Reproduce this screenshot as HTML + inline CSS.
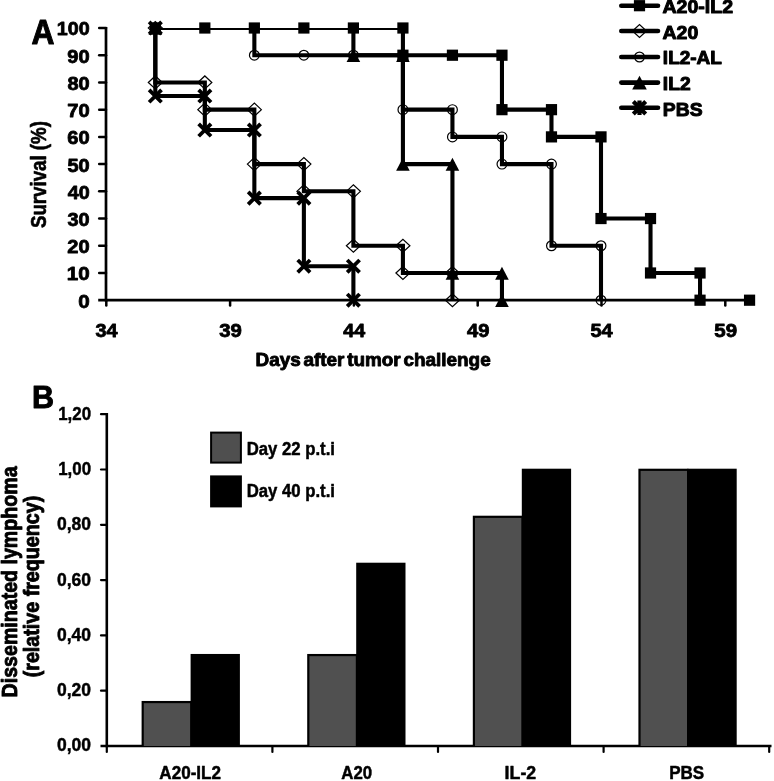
<!DOCTYPE html>
<html><head><meta charset="utf-8"><title>Figure</title>
<style>html,body{margin:0;padding:0;background:#fff}body{width:774px;height:781px;position:relative;overflow:hidden;font-family:"Liberation Sans",sans-serif}</style></head>
<body>
<svg width="774" height="781" viewBox="0 0 774 781" style="position:absolute;left:0;top:0;filter:grayscale(1) blur(0.4px)">
<rect width="774" height="781" fill="#fff"/>
<defs><clipPath id="cp"><rect x="105.8" y="28.00" width="700" height="273.55"/></clipPath></defs>
<g stroke="#000" stroke-width="2.7" fill="none">
<path d="M106.0 26.90V301.50"/>
<path d="M98.2 300.20H749.56"/>
</g>
<g stroke="#000" stroke-width="2.5" fill="none" stroke-linecap="round">
<path d="M99.2 272.98H106.0"/>
<path d="M99.2 245.76H106.0"/>
<path d="M99.2 218.54H106.0"/>
<path d="M99.2 191.32H106.0"/>
<path d="M99.2 164.10H106.0"/>
<path d="M99.2 136.88H106.0"/>
<path d="M99.2 109.66H106.0"/>
<path d="M99.2 82.44H106.0"/>
<path d="M99.2 55.22H106.0"/>
<path d="M99.2 28.00H106.0"/>
<path d="M106.30 300.20V305.40"/>
<path d="M230.10 300.20V305.40"/>
<path d="M353.90 300.20V305.40"/>
<path d="M477.70 300.20V305.40"/>
<path d="M601.50 300.20V305.40"/>
<path d="M725.30 300.20V305.40"/>
</g>
<g clip-path="url(#cp)" fill="none" stroke="#000" stroke-width="4.1" stroke-linejoin="miter">
<path d="M155.32 28.00L155.32 82.44L204.84 82.44L204.84 109.66L254.36 109.66L254.36 164.10L303.88 164.10L303.88 191.32L353.40 191.32L353.40 245.76L402.92 245.76L402.92 272.98L452.44 272.98L452.44 300.20"/>
<path d="M155.32 28.00L254.36 28.00L254.36 55.22L402.92 55.22L402.92 109.66L452.44 109.66L452.44 136.88L501.96 136.88L501.96 164.10L551.48 164.10L551.48 245.76L601.00 245.76L601.00 300.20"/>
<path d="M155.32 28.00L353.40 28.00L353.40 55.22L402.92 55.22L402.92 164.10L452.44 164.10L452.44 272.98L501.96 272.98L501.96 300.20"/>
<path d="M155.32 28.00L155.32 96.05L204.84 96.05L204.84 130.07L254.36 130.07L254.36 198.12L303.88 198.12L303.88 266.18L353.40 266.18L353.40 300.20"/>
<path d="M155.32 28.00L402.92 28.00L402.92 55.22L501.96 55.22L501.96 109.66L551.48 109.66L551.48 136.88L601.00 136.88L601.00 218.54L650.52 218.54L650.52 272.98L700.04 272.98L700.04 300.20"/>
</g>
<path d="M148.32 28.00L155.32 21.50L162.32 28.00L155.32 34.50Z" fill="none" stroke="#000" stroke-width="1.2"/>
<path d="M148.32 82.44L155.32 75.94L162.32 82.44L155.32 88.94Z" fill="none" stroke="#000" stroke-width="1.2"/>
<path d="M197.84 82.44L204.84 75.94L211.84 82.44L204.84 88.94Z" fill="none" stroke="#000" stroke-width="1.2"/>
<path d="M197.84 109.66L204.84 103.16L211.84 109.66L204.84 116.16Z" fill="none" stroke="#000" stroke-width="1.2"/>
<path d="M247.36 109.66L254.36 103.16L261.36 109.66L254.36 116.16Z" fill="none" stroke="#000" stroke-width="1.2"/>
<path d="M247.36 164.10L254.36 157.60L261.36 164.10L254.36 170.60Z" fill="none" stroke="#000" stroke-width="1.2"/>
<path d="M296.88 164.10L303.88 157.60L310.88 164.10L303.88 170.60Z" fill="none" stroke="#000" stroke-width="1.2"/>
<path d="M296.88 191.32L303.88 184.82L310.88 191.32L303.88 197.82Z" fill="none" stroke="#000" stroke-width="1.2"/>
<path d="M346.40 191.32L353.40 184.82L360.40 191.32L353.40 197.82Z" fill="none" stroke="#000" stroke-width="1.2"/>
<path d="M346.40 245.76L353.40 239.26L360.40 245.76L353.40 252.26Z" fill="none" stroke="#000" stroke-width="1.2"/>
<path d="M395.92 245.76L402.92 239.26L409.92 245.76L402.92 252.26Z" fill="none" stroke="#000" stroke-width="1.2"/>
<path d="M395.92 272.98L402.92 266.48L409.92 272.98L402.92 279.48Z" fill="none" stroke="#000" stroke-width="1.2"/>
<path d="M445.44 272.98L452.44 266.48L459.44 272.98L452.44 279.48Z" fill="none" stroke="#000" stroke-width="1.2"/>
<path d="M445.44 300.20L452.44 293.70L459.44 300.20L452.44 306.70Z" fill="none" stroke="#000" stroke-width="1.2"/>
<circle cx="155.32" cy="28.00" r="4.9" fill="none" stroke="#000" stroke-width="1.2"/>
<circle cx="254.36" cy="55.22" r="4.9" fill="none" stroke="#000" stroke-width="1.2"/>
<circle cx="303.88" cy="55.22" r="4.9" fill="none" stroke="#000" stroke-width="1.2"/>
<circle cx="353.40" cy="55.22" r="4.9" fill="none" stroke="#000" stroke-width="1.2"/>
<circle cx="402.92" cy="55.22" r="4.9" fill="none" stroke="#000" stroke-width="1.2"/>
<circle cx="402.92" cy="109.66" r="4.9" fill="none" stroke="#000" stroke-width="1.2"/>
<circle cx="452.44" cy="109.66" r="4.9" fill="none" stroke="#000" stroke-width="1.2"/>
<circle cx="452.44" cy="136.88" r="4.9" fill="none" stroke="#000" stroke-width="1.2"/>
<circle cx="501.96" cy="136.88" r="4.9" fill="none" stroke="#000" stroke-width="1.2"/>
<circle cx="501.96" cy="164.10" r="4.9" fill="none" stroke="#000" stroke-width="1.2"/>
<circle cx="551.48" cy="164.10" r="4.9" fill="none" stroke="#000" stroke-width="1.2"/>
<circle cx="551.48" cy="245.76" r="4.9" fill="none" stroke="#000" stroke-width="1.2"/>
<circle cx="601.00" cy="245.76" r="4.9" fill="none" stroke="#000" stroke-width="1.2"/>
<circle cx="601.00" cy="300.20" r="4.9" fill="none" stroke="#000" stroke-width="1.2"/>
<path d="M148.52 34.70L155.32 21.70L162.12 34.70Z" fill="#000"/>
<path d="M346.60 61.92L353.40 48.92L360.20 61.92Z" fill="#000"/>
<path d="M396.12 61.92L402.92 48.92L409.72 61.92Z" fill="#000"/>
<path d="M396.12 170.80L402.92 157.80L409.72 170.80Z" fill="#000"/>
<path d="M445.64 170.80L452.44 157.80L459.24 170.80Z" fill="#000"/>
<path d="M445.64 279.68L452.44 266.68L459.24 279.68Z" fill="#000"/>
<path d="M495.16 279.68L501.96 266.68L508.76 279.68Z" fill="#000"/>
<path d="M495.16 306.90L501.96 293.90L508.76 306.90Z" fill="#000"/>
<rect x="149.72" y="22.40" width="11.2" height="11.2" fill="#000"/>
<rect x="199.24" y="22.40" width="11.2" height="11.2" fill="#000"/>
<rect x="248.76" y="22.40" width="11.2" height="11.2" fill="#000"/>
<rect x="298.28" y="22.40" width="11.2" height="11.2" fill="#000"/>
<rect x="347.80" y="22.40" width="11.2" height="11.2" fill="#000"/>
<rect x="397.32" y="22.40" width="11.2" height="11.2" fill="#000"/>
<rect x="397.32" y="49.62" width="11.2" height="11.2" fill="#000"/>
<rect x="446.84" y="49.62" width="11.2" height="11.2" fill="#000"/>
<rect x="496.36" y="49.62" width="11.2" height="11.2" fill="#000"/>
<rect x="496.36" y="104.06" width="11.2" height="11.2" fill="#000"/>
<rect x="545.88" y="104.06" width="11.2" height="11.2" fill="#000"/>
<rect x="545.88" y="131.28" width="11.2" height="11.2" fill="#000"/>
<rect x="595.40" y="131.28" width="11.2" height="11.2" fill="#000"/>
<rect x="595.40" y="212.94" width="11.2" height="11.2" fill="#000"/>
<rect x="644.92" y="212.94" width="11.2" height="11.2" fill="#000"/>
<rect x="644.92" y="267.38" width="11.2" height="11.2" fill="#000"/>
<rect x="694.44" y="267.38" width="11.2" height="11.2" fill="#000"/>
<rect x="694.44" y="294.60" width="11.2" height="11.2" fill="#000"/>
<rect x="743.96" y="294.60" width="11.2" height="11.2" fill="#000"/>
<path d="M149.12 21.80L161.52 34.20M149.12 34.20L161.52 21.80" fill="none" stroke="#000" stroke-width="3.8" stroke-linecap="butt"/>
<path d="M149.12 89.85L161.52 102.25M149.12 102.25L161.52 89.85" fill="none" stroke="#000" stroke-width="3.8" stroke-linecap="butt"/>
<path d="M198.64 89.85L211.04 102.25M198.64 102.25L211.04 89.85" fill="none" stroke="#000" stroke-width="3.8" stroke-linecap="butt"/>
<path d="M198.64 123.87L211.04 136.27M198.64 136.27L211.04 123.87" fill="none" stroke="#000" stroke-width="3.8" stroke-linecap="butt"/>
<path d="M248.16 123.87L260.56 136.27M248.16 136.27L260.56 123.87" fill="none" stroke="#000" stroke-width="3.8" stroke-linecap="butt"/>
<path d="M248.16 191.93L260.56 204.32M248.16 204.32L260.56 191.93" fill="none" stroke="#000" stroke-width="3.8" stroke-linecap="butt"/>
<path d="M297.68 191.93L310.08 204.32M297.68 204.32L310.08 191.93" fill="none" stroke="#000" stroke-width="3.8" stroke-linecap="butt"/>
<path d="M297.68 259.98L310.08 272.38M297.68 272.38L310.08 259.98" fill="none" stroke="#000" stroke-width="3.8" stroke-linecap="butt"/>
<path d="M347.20 259.98L359.60 272.38M347.20 272.38L359.60 259.98" fill="none" stroke="#000" stroke-width="3.8" stroke-linecap="butt"/>
<path d="M347.20 294.00L359.60 306.40M347.20 306.40L359.60 294.00" fill="none" stroke="#000" stroke-width="3.8" stroke-linecap="butt"/>
<g font-family="Liberation Sans, sans-serif" font-weight="bold" fill="#000">
<text transform="translate(78.17 307.60) scale(1.0941 1)" font-size="18.86" stroke="#000" stroke-width="0.8" stroke-linejoin="round">0</text>
<text transform="translate(66.76 280.38) scale(1.0921 1)" font-size="18.86" stroke="#000" stroke-width="0.8" stroke-linejoin="round">10</text>
<text transform="translate(67.30 253.16) scale(1.0657 1)" font-size="18.86" stroke="#000" stroke-width="0.8" stroke-linejoin="round">20</text>
<text transform="translate(67.50 225.94) scale(1.0555 1)" font-size="18.86" stroke="#000" stroke-width="0.8" stroke-linejoin="round">30</text>
<text transform="translate(67.70 198.72) scale(1.0455 1)" font-size="18.86" stroke="#000" stroke-width="0.8" stroke-linejoin="round">40</text>
<text transform="translate(67.40 171.50) scale(1.0606 1)" font-size="18.86" stroke="#000" stroke-width="0.8" stroke-linejoin="round">50</text>
<text transform="translate(67.30 144.28) scale(1.0657 1)" font-size="18.86" stroke="#000" stroke-width="0.8" stroke-linejoin="round">60</text>
<text transform="translate(67.19 117.06) scale(1.0709 1)" font-size="18.86" stroke="#000" stroke-width="0.8" stroke-linejoin="round">70</text>
<text transform="translate(67.40 89.84) scale(1.0606 1)" font-size="18.86" stroke="#000" stroke-width="0.8" stroke-linejoin="round">80</text>
<text transform="translate(67.30 62.62) scale(1.0657 1)" font-size="18.86" stroke="#000" stroke-width="0.8" stroke-linejoin="round">90</text>
<text transform="translate(56.82 35.40) scale(1.0437 1)" font-size="18.86" stroke="#000" stroke-width="0.8" stroke-linejoin="round">100</text>
<text transform="translate(95.40 336.90) scale(1.0670 1)" font-size="18.57" stroke="#000" stroke-width="0.8" stroke-linejoin="round">34</text>
<text transform="translate(219.19 336.90) scale(1.0974 1)" font-size="18.57" stroke="#000" stroke-width="0.8" stroke-linejoin="round">39</text>
<text transform="translate(343.21 336.90) scale(1.0421 1)" font-size="18.84" stroke="#000" stroke-width="0.8" stroke-linejoin="round">44</text>
<text transform="translate(467.00 336.90) scale(1.0871 1)" font-size="18.57" stroke="#000" stroke-width="0.8" stroke-linejoin="round">49</text>
<text transform="translate(590.50 336.90) scale(1.0566 1)" font-size="18.84" stroke="#000" stroke-width="0.8" stroke-linejoin="round">54</text>
<text transform="translate(714.29 336.90) scale(1.1027 1)" font-size="18.57" stroke="#000" stroke-width="0.8" stroke-linejoin="round">59</text>
<text transform="translate(255.52 365.97) scale(1.0082 1)" font-size="18.77" stroke="#000" stroke-width="0.9" stroke-linejoin="round" word-spacing="-2.5">Days after tumor challenge</text>
<text transform="translate(46.25 228.06) rotate(-90) scale(0.8655 1)" font-size="21.59" stroke="#000" stroke-width="0.6" stroke-linejoin="round">Survival (%)</text>
<text transform="translate(31.61 43.55) scale(0.9140 1)" font-size="34.78" stroke="#000" stroke-width="1.0" stroke-linejoin="round">A</text>
<text transform="translate(32.12 408.15) scale(0.9607 1)" font-size="31.74" stroke="#000" stroke-width="1.0" stroke-linejoin="round">B</text>
<path d="M621.3 5.7H658" stroke="#000" stroke-width="4.6" stroke-linecap="round"/>
<rect x="633.90" y="0.10" width="11.2" height="11.2" fill="#000"/>
<text transform="translate(662.51 13.25) scale(1.0142 1)" font-size="19.28" stroke="#000" stroke-width="1.0" stroke-linejoin="round">A20-IL2</text>
<path d="M621.3 31H658" stroke="#000" stroke-width="4.6" stroke-linecap="round"/>
<path d="M632.50 31.00L639.50 24.50L646.50 31.00L639.50 37.50Z" fill="none" stroke="#000" stroke-width="1.2"/>
<text transform="translate(662.51 38.85) scale(1.0112 1)" font-size="19.28" stroke="#000" stroke-width="1.0" stroke-linejoin="round">A20</text>
<path d="M621.3 57H658" stroke="#000" stroke-width="4.6" stroke-linecap="round"/>
<circle cx="639.50" cy="57.00" r="4.9" fill="none" stroke="#000" stroke-width="1.2"/>
<text transform="translate(662.86 64.45) scale(0.9860 1)" font-size="19.28" stroke="#000" stroke-width="1.0" stroke-linejoin="round">IL2-AL</text>
<path d="M621.3 82.6H658" stroke="#000" stroke-width="4.6" stroke-linecap="round"/>
<path d="M632.20 89.60L639.50 75.80L646.80 89.60Z" fill="#000"/>
<text transform="translate(662.85 90.25) scale(0.9989 1)" font-size="19.28" stroke="#000" stroke-width="1.0" stroke-linejoin="round">IL2</text>
<path d="M621.3 107.8H658" stroke="#000" stroke-width="4.6" stroke-linecap="round"/>
<path d="M633.30 101.60L645.70 114.00M633.30 114.00L645.70 101.60M639.50 100.60L639.50 115.00" fill="none" stroke="#000" stroke-width="4.2" stroke-linecap="butt"/>
<text transform="translate(662.84 115.85) scale(1.0031 1)" font-size="19.28" stroke="#000" stroke-width="1.0" stroke-linejoin="round">PBS</text>
<g stroke="#000" stroke-width="2.6" fill="none">
<path d="M106.8 413.00V747.30"/>
<path d="M100.5 746.0H771.5"/>
</g>
<g stroke="#000" stroke-width="2.2" fill="none" stroke-linecap="round">
<path d="M101 690.70H106.8"/>
<path d="M101 635.40H106.8"/>
<path d="M101 580.10H106.8"/>
<path d="M101 524.80H106.8"/>
<path d="M101 469.50H106.8"/>
<path d="M101 414.20H106.8"/>
<path d="M106.80 746.0V752.00"/>
<path d="M272.40 746.0V752.00"/>
<path d="M438.00 746.0V752.00"/>
<path d="M603.60 746.0V752.00"/>
<path d="M769.20 746.0V752.00"/>
</g>
<rect x="141.60" y="700.96" width="50.00" height="45.04" fill="#000"/>
<rect x="143.80" y="703.16" width="46.40" height="42.84" fill="#505050"/>
<rect x="190.60" y="653.96" width="49.30" height="92.04" fill="#000"/>
<rect x="307.20" y="653.96" width="50.00" height="92.04" fill="#000"/>
<rect x="309.40" y="656.16" width="46.40" height="89.84" fill="#505050"/>
<rect x="356.20" y="562.71" width="49.30" height="183.29" fill="#000"/>
<rect x="472.80" y="515.71" width="50.00" height="230.29" fill="#000"/>
<rect x="475.00" y="517.91" width="46.40" height="228.09" fill="#505050"/>
<rect x="521.80" y="468.70" width="49.30" height="277.30" fill="#000"/>
<rect x="638.40" y="468.70" width="50.00" height="277.30" fill="#000"/>
<rect x="640.60" y="470.90" width="46.40" height="275.10" fill="#505050"/>
<rect x="687.40" y="468.70" width="49.30" height="277.30" fill="#000"/>
<text transform="translate(159.32 779.27) scale(0.9179 1)" font-size="18.62" stroke="#000" stroke-width="0.5" stroke-linejoin="round">A20-IL2</text>
<text transform="translate(341.33 779.27) scale(0.9040 1)" font-size="18.62" stroke="#000" stroke-width="0.5" stroke-linejoin="round">A20</text>
<text transform="translate(504.59 779.27) scale(0.9550 1)" font-size="18.62" stroke="#000" stroke-width="0.5" stroke-linejoin="round">IL-2</text>
<text transform="translate(669.14 779.27) scale(0.9146 1)" font-size="18.62" stroke="#000" stroke-width="0.5" stroke-linejoin="round">PBS</text>
<text transform="translate(57.02 751.49) scale(0.9922 1)" font-size="17.64" stroke="#000" stroke-width="0.45" stroke-linejoin="round">0,00</text>
<text transform="translate(57.02 696.19) scale(0.9922 1)" font-size="17.64" stroke="#000" stroke-width="0.45" stroke-linejoin="round">0,20</text>
<text transform="translate(57.02 640.89) scale(0.9922 1)" font-size="17.64" stroke="#000" stroke-width="0.45" stroke-linejoin="round">0,40</text>
<text transform="translate(57.02 585.59) scale(0.9922 1)" font-size="17.64" stroke="#000" stroke-width="0.45" stroke-linejoin="round">0,60</text>
<text transform="translate(57.02 530.29) scale(0.9922 1)" font-size="17.64" stroke="#000" stroke-width="0.45" stroke-linejoin="round">0,80</text>
<text transform="translate(58.21 474.99) scale(0.9568 1)" font-size="17.64" stroke="#000" stroke-width="0.45" stroke-linejoin="round">1,00</text>
<text transform="translate(58.21 419.69) scale(0.9568 1)" font-size="17.64" stroke="#000" stroke-width="0.45" stroke-linejoin="round">1,20</text>
<rect x="211.1" y="432.6" width="29.8" height="30" fill="#4f4f4f" stroke="#000" stroke-width="2"/>
<rect x="211.1" y="476.4" width="29.8" height="30" fill="#000" stroke="#000" stroke-width="2"/>
<text transform="translate(246.66 454.77) scale(0.9056 1)" font-size="18.48" stroke="#000" stroke-width="0.5" stroke-linejoin="round">Day 22 p.t.i</text>
<text transform="translate(246.66 497.48) scale(0.9201 1)" font-size="18.19" stroke="#000" stroke-width="0.5" stroke-linejoin="round">Day 40 p.t.i</text>
<text transform="translate(16.67 697.43) rotate(-90) scale(0.8598 1)" font-size="22.83" stroke="#000" stroke-width="0.9" stroke-linejoin="round">Disseminated lymphoma</text>
<text transform="translate(39.38 677.33) rotate(-90) scale(0.8969 1)" font-size="21.96" stroke="#000" stroke-width="0.9" stroke-linejoin="round">(relative frequency)</text>
</g>
</svg>
</body></html>
